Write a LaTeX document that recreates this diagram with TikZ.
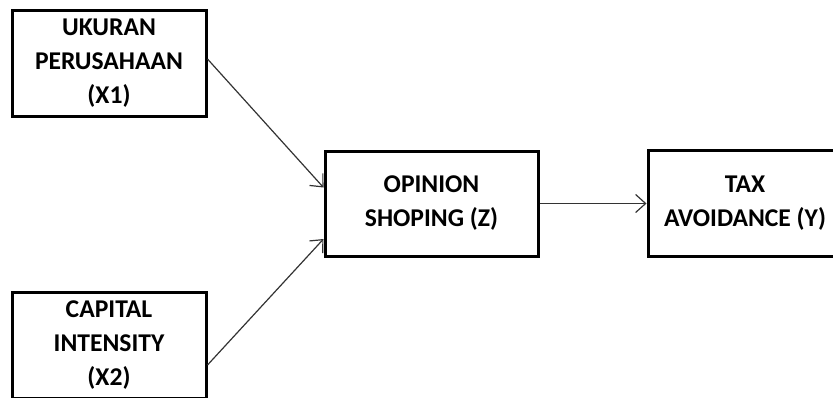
\documentclass[tikz,border=0pt]{standalone}
\usepackage{fontspec}
\setmainfont{Carlito}
\usetikzlibrary{positioning,arrows.meta}

\begin{document}
\begin{tikzpicture}[
  box/.style={draw, line width=1.5pt, align=center, inner sep=0pt,
              font=\fontsize{12.8}{17}\selectfont\bfseries,
              minimum width=97pt, minimum height=53pt},
  arr/.style={-{Straight Barb[length=5pt,width=9pt]}, line width=0.6pt, draw=black!80}
]
\useasboundingbox (0,0) rectangle (416.5pt,-198.5pt);

\node[box] (x1) at (54.5pt,-31.5pt) {UKURAN\\PERUSAHAAN\\(X1)};
\node[box] (x2) at (54.5pt,-172.5pt) {CAPITAL\\INTENSITY\\(X2)};
\node[box, minimum width=106.5pt, minimum height=52.5pt] (z) at (215.75pt,-101.75pt) {OPINION\\SHOPING (Z)};
\node[box] (y) at (372.5pt,-101.75pt) {TAX\\AVOIDANCE (Y)};

\draw[arr] ([yshift=2pt]x1.east) -- ([yshift=8pt]z.west);
\draw[arr] ([yshift=-10pt]x2.east) -- ([yshift=-17.75pt]z.west);
\draw[arr] (z) -- (y);
\end{tikzpicture}
\end{document}
